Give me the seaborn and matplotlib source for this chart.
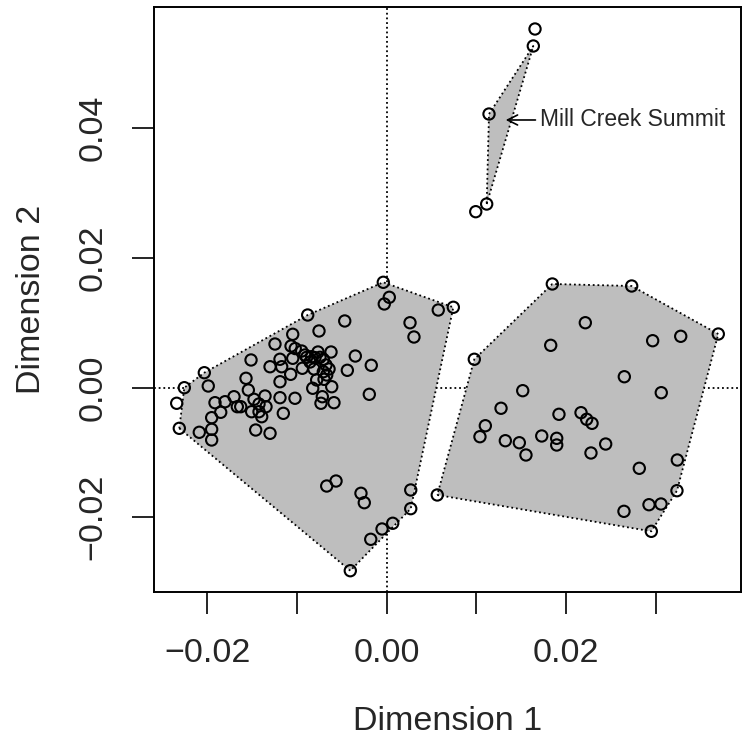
import numpy as np
import pandas as pd
import matplotlib
matplotlib.use("Agg")
import matplotlib.pyplot as plt
import seaborn as sns

# ---- data: MDS coordinates ----
west_dim1 = [-0.00038, 0.00029, -0.00027, 0.00575, 0.00743, -0.00468, 0.00260, 0.00304,
             -0.00350, -0.00172, -0.00439, -0.00194, -0.00669, -0.00565, -0.00287, -0.00250,
             0.00268, 0.00268, 0.00067, -0.00052, -0.00178, -0.00406, -0.00881, -0.00755,
             -0.01048, -0.01246, -0.01067, -0.01020, -0.00948, -0.00621, -0.01513, -0.01190,
             -0.01048, -0.00892, -0.00836, -0.00800, -0.00744, -0.00707, -0.01301, -0.01171,
             -0.00941, -0.00811, -0.00643, -0.01071, -0.00707, -0.00669, -0.00781, -0.00699,
             -0.01569, -0.01190, -0.00613, -0.00825, -0.00718, -0.02034, -0.01990, -0.02257,
             -0.01543, -0.01357, -0.01703, -0.01803, -0.01915, -0.01480, -0.01424, -0.01190,
             -0.01023, -0.01666, -0.01628, -0.01346, -0.01506, -0.01424, -0.01153, -0.01394,
             -0.01851, -0.02342, -0.01952, -0.00733, -0.00588, -0.02313, -0.02090, -0.01952,
             -0.01952, -0.01461, -0.01301, -0.00911, -0.00855, -0.00766, -0.00677]
west_dim2 = [0.01621, 0.01390, 0.01287, 0.01194, 0.01236, 0.01025, 0.00998, 0.00778,
             0.00485, 0.00342, 0.00265, -0.00105, -0.01518, -0.01441, -0.01630, -0.01775,
             -0.01579, -0.01867, -0.02092, -0.02180, -0.02339, -0.02823, 0.01117, 0.00871,
             0.00820, 0.00670, 0.00639, 0.00600, 0.00562, 0.00547, 0.00424, 0.00435,
             0.00450, 0.00465, 0.00475, 0.00459, 0.00465, 0.00435, 0.00320, 0.00320,
             0.00296, 0.00285, 0.00285, 0.00203, 0.00243, 0.00193, 0.00116, 0.00126,
             0.00142, 0.00089, 0.00012, -0.00012, -0.00142, 0.00228, 0.00023, -0.00003,
             -0.00039, -0.00131, -0.00142, -0.00219, -0.00234, -0.00182, -0.00254, -0.00157,
             -0.00166, -0.00296, -0.00296, -0.00296, -0.00373, -0.00373, -0.00398, -0.00450,
             -0.00382, -0.00243, -0.00465, -0.00243, -0.00234, -0.00629, -0.00690, -0.00644,
             -0.00809, -0.00655, -0.00706, 0.00501, 0.00393, 0.00547, 0.00347]
west_off_hull = [73]

east_dim1 = [0.01847, 0.02732, 0.02215, 0.02966, 0.03279, 0.03698, 0.01829, 0.00977,
             0.02650, 0.03062, 0.01517, 0.01275, 0.01921, 0.02167, 0.02230, 0.02290,
             0.01100, 0.01040, 0.01323, 0.01479, 0.01553, 0.01729, 0.01896, 0.01896,
             0.02278, 0.02442, 0.02817, 0.03241, 0.03237, 0.02925, 0.03059, 0.02646,
             0.02951, 0.00564]
east_dim2 = [0.01595, 0.01564, 0.00998, 0.00721, 0.00789, 0.00824, 0.00650, 0.00435,
             0.00166, -0.00080, -0.00049, -0.00320, -0.00413, -0.00388, -0.00490, -0.00552,
             -0.00589, -0.00758, -0.00820, -0.00851, -0.01040, -0.00747, -0.00783, -0.00886,
             -0.01009, -0.00871, -0.01245, -0.01117, -0.01590, -0.01806, -0.01795, -0.01908,
             -0.02216, -0.01656]
east_off_hull = []

north_dim1 = [0.01654, 0.01635, 0.01141, 0.01115, 0.00993]
north_dim2 = [0.05524, 0.05262, 0.04214, 0.02827, 0.02709]
north_off_hull = [0, 4]

label_text = "Mill Creek Summit"
label_point = 2  # index in the north group

x_ticks = [-0.02, -0.01, 0.00, 0.01, 0.02, 0.03]
x_tick_labels = ["\u22120.02", "", "0.00", "", "0.02", ""]
y_ticks = [-0.02, 0.00, 0.02, 0.04]
y_tick_labels = ["\u22120.02", "0.00", "0.02", "0.04"]

# ---- build table ----
frames = []
for name, xs, ys, off in [("west", west_dim1, west_dim2, west_off_hull),
                          ("east", east_dim1, east_dim2, east_off_hull),
                          ("north", north_dim1, north_dim2, north_off_hull)]:
    d = pd.DataFrame({"Dimension 1": xs, "Dimension 2": ys, "group": name})
    d["in_hull"] = [i not in off for i in range(len(xs))]
    frames.append(d)
df = pd.concat(frames, ignore_index=True)


def convex_hull(pts):
    pts = sorted(set(map(tuple, pts)))
    if len(pts) <= 2:
        return pts

    def cross(o, a, b):
        return (a[0] - o[0]) * (b[1] - o[1]) - (a[1] - o[1]) * (b[0] - o[0])

    lower, upper = [], []
    for p in pts:
        while len(lower) >= 2 and cross(lower[-2], lower[-1], p) <= 0:
            lower.pop()
        lower.append(p)
    for p in reversed(pts):
        while len(upper) >= 2 and cross(upper[-2], upper[-1], p) <= 0:
            upper.pop()
        upper.append(p)
    return lower[:-1] + upper[:-1]


# ---- plot ----
sns.set_style("white")
plt.rcParams["font.family"] = ["Liberation Sans", "DejaVu Sans"]

fig = plt.figure(figsize=(7.44, 7.40), dpi=100)
ax = fig.add_axes([154 / 744, 1 - 592 / 740, (741 - 154) / 744, (592 - 7) / 740])

dot = (0, (1, 1.6))
ax.axvline(0, color="black", lw=1.3, linestyle=dot, zorder=1)
ax.axhline(0, color="black", lw=1.3, linestyle=dot, zorder=1)

for name, g in df.groupby("group"):
    hull = convex_hull(g.loc[g["in_hull"], ["Dimension 1", "Dimension 2"]].values)
    hx = [p[0] for p in hull] + [hull[0][0]]
    hy = [p[1] for p in hull] + [hull[0][1]]
    ax.fill(hx, hy, facecolor="#BEBEBE", edgecolor="none", zorder=2)
    ax.plot(hx, hy, color="black", lw=1.3, linestyle=dot, zorder=2.5)

sns.scatterplot(data=df, x="Dimension 1", y="Dimension 2", ax=ax,
                marker="o", s=66, facecolor="none", edgecolor="black",
                linewidth=1.5, zorder=3, legend=False)

north = df[df["group"] == "north"].reset_index(drop=True)
px, py = north.loc[label_point, "Dimension 1"], north.loc[label_point, "Dimension 2"]
ax.annotate(label_text, xy=(px + 0.00186, py - 0.00092), xytext=(px + 0.0057, py - 0.00092),
            fontsize=16.5, va="center", ha="left",
            arrowprops=dict(arrowstyle="->", color="black", lw=1.2,
                            shrinkA=1, shrinkB=0, mutation_scale=18))

ax.set_xlim(-0.025951, 0.039512)
ax.set_ylim(-0.031510, 0.058629)
ax.set_xticks(x_ticks)
ax.set_xticklabels(x_tick_labels, fontsize=24.5)
ax.set_yticks(y_ticks)
ax.set_yticklabels(y_tick_labels, fontsize=24.5, rotation=90, va="center")
ax.tick_params(axis="both", direction="out", length=16, width=1.2, color="black",
               pad=17, bottom=True, left=True)
ax.set_xlabel("Dimension 1", fontsize=24.5, labelpad=27)
ax.set_ylabel("Dimension 2", fontsize=24.5, labelpad=22)
for sp in ax.spines.values():
    sp.set_visible(True)
    sp.set_color("black")
    sp.set_linewidth(1.4)

fig.savefig("out.png", dpi=100)
